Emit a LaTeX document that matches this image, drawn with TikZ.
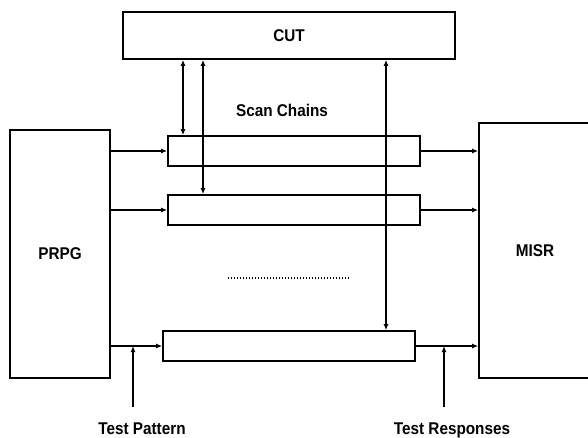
\documentclass[tikz,border=0pt]{standalone}
\usepackage{fontspec}
\setmainfont{Liberation Sans}
\usetikzlibrary{arrows.meta}
\usetikzlibrary{calc}
\usetikzlibrary{positioning}

\newcommand{\narrow}[1]{\scalebox{0.9}[1]{#1}}

\begin{document}
\begin{tikzpicture}[x=1pt,y=-1pt,
  blk/.style={draw,line width=1.7pt,inner sep=0pt,font=\fontsize{17}{20}\selectfont\bfseries},
  chainbox/.style={blk,minimum width=252pt,minimum height=30pt},
  lbl/.style={font=\fontsize{17}{20}\selectfont\bfseries},
  arr/.style={line width=1.7pt,-{Latex[length=6pt,width=5pt]}},
  darr/.style={line width=1.7pt,{Latex[length=6pt,width=5pt]}-{Latex[length=6pt,width=5pt]}}]
\clip (0,0) rectangle (588,437);

\node[blk,minimum width=332pt,minimum height=47pt] (cut) at (289,35.5) {\narrow{CUT}};
\node[blk,minimum width=100pt,minimum height=248pt] (prpg) at (60,254) {\narrow{PRPG}};
\node[blk,minimum width=112pt,minimum height=255pt] (misr) at (535,250.5) {\narrow{MISR}};

\node[chainbox] (chain1) at (294,151) {};
\node[chainbox] (chain2) at (294,210) {};
\node[chainbox] (chain3) at (289,346) {};

\node[lbl] (scan) at (282,110) {\narrow{Scan Chains}};
\node[lbl,anchor=base] (tpat) at (142,434) {\narrow{Test Pattern}};
\node[lbl,anchor=base] (tresp) at (452,434) {\narrow{Test Responses}};

% inputs and outputs of the chains
\draw[arr] (prpg.east |- chain1.west) -- (chain1.west);
\draw[arr] (prpg.east |- chain2.west) -- (chain2.west);
\draw[arr] (prpg.east |- chain3.west) -- (chain3.west);
\draw[arr] (chain1.east) -- (chain1.east -| misr.west);
\draw[arr] (chain2.east) -- (chain2.east -| misr.west);
\draw[arr] (chain3.east) -- (chain3.east -| misr.west);

% links to the CUT
\coordinate (ln1) at (183,0);
\coordinate (ln2) at (203,0);
\coordinate (ln3) at (386,0);
\draw[darr] (cut.south -| ln1) -- (chain1.north -| ln1);
\draw[darr] (cut.south -| ln2) -- (chain2.north -| ln2);
\draw[darr] (cut.south -| ln3) -- (chain3.north -| ln3);

\coordinate (tp) at (133,407);
\coordinate (tr) at (444,407);
\draw[arr] (tp) -- (tp |- chain3.west);
\draw[arr] (tr) -- (tr |- chain3.east);

\coordinate (dots1) at (228,278);
\coordinate (dots2) at (350,278);
\draw[line width=1.3pt,dash pattern=on 1.3pt off 1.7pt] (dots1) -- (dots2);
\end{tikzpicture}
\end{document}
